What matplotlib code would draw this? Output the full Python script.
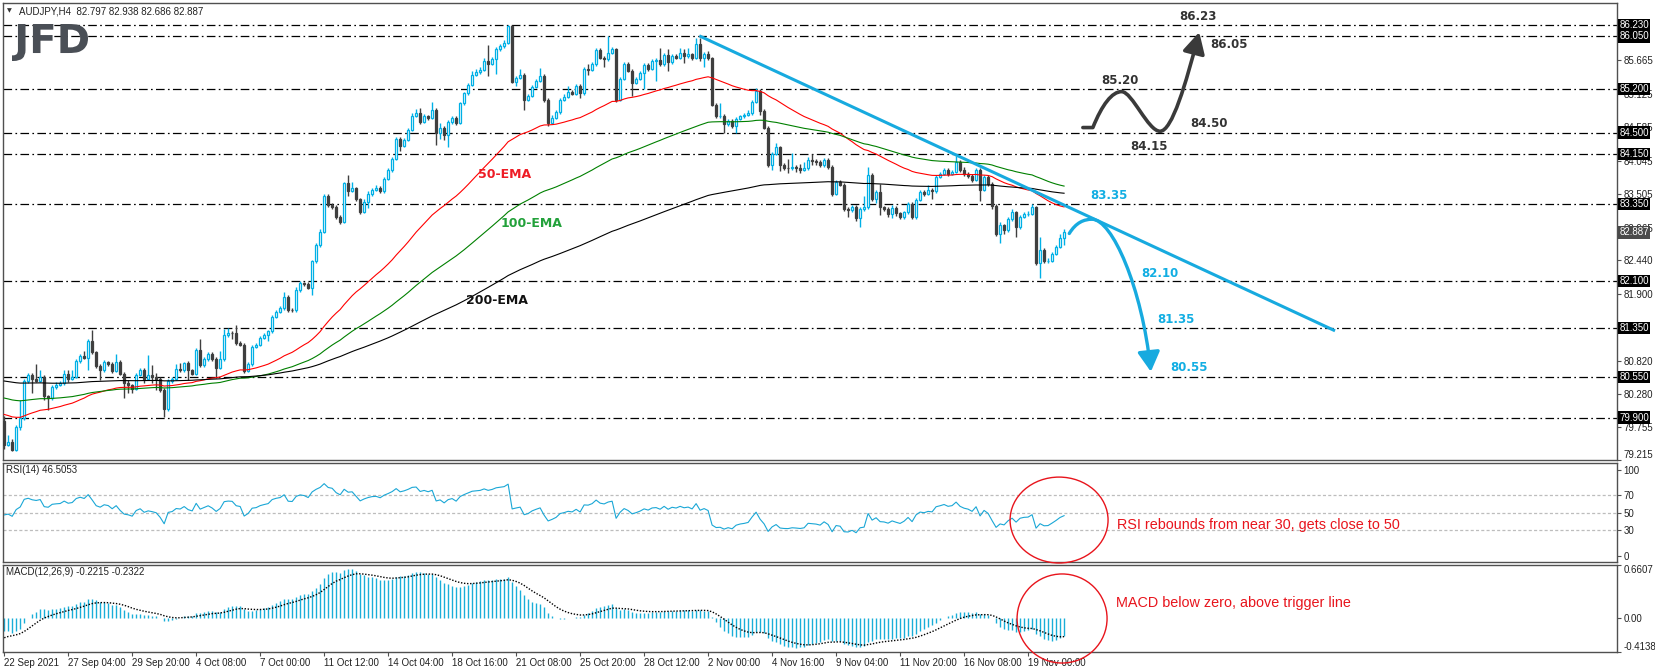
import numpy as np
import matplotlib
matplotlib.use("Agg")
import matplotlib.pyplot as plt
import matplotlib.transforms as mtransforms
from matplotlib.patches import Ellipse, FancyArrowPatch, PathPatch
from matplotlib.path import Path
from matplotlib.textpath import TextPath
from matplotlib.font_manager import FontProperties

plt.rcParams['font.family'] = ['Liberation Sans', 'DejaVu Sans']
plt.rcParams['lines.scale_dashes'] = False

# ---- data ----
header = "AUDJPY,H4  82.797 82.938 82.686 82.887"
first_open = 79.85

closes = [79.46, 79.50, 79.38, 79.74, 79.90, 80.49, 80.59, 80.52, 80.49, 80.56,  # 0
          80.24, 80.21, 80.40, 80.43, 80.45, 80.60, 80.52, 80.56, 80.81, 80.90,  # 10
          80.86, 81.13, 80.95, 80.73, 80.67, 80.80, 80.77, 80.65, 80.80, 80.61,  # 20
          80.45, 80.42, 80.36, 80.59, 80.67, 80.53, 80.59, 80.56, 80.52, 80.34,  # 30
          80.03, 80.49, 80.53, 80.68, 80.66, 80.78, 80.66, 80.61, 80.99, 80.75,  # 40
          80.84, 80.93, 80.84, 80.70, 80.84, 81.23, 81.27, 81.26, 81.10, 81.07,  # 50
          80.65, 80.77, 81.04, 81.07, 81.18, 81.24, 81.29, 81.53, 81.61, 81.66,  # 60
          81.85, 81.64, 81.63, 81.96, 82.07, 82.05, 81.99, 82.42, 82.68, 82.90,  # 70
          83.47, 83.33, 83.30, 83.14, 83.06, 83.68, 83.56, 83.60, 83.42, 83.22,  # 80
          83.38, 83.50, 83.58, 83.60, 83.55, 83.75, 83.89, 84.07, 84.39, 84.28,  # 90
          84.38, 84.54, 84.77, 84.81, 84.67, 84.77, 84.73, 84.86, 84.50, 84.57,  # 100
          84.46, 84.67, 84.74, 84.65, 84.97, 85.13, 85.27, 85.43, 85.47, 85.51,  # 110
          85.65, 85.61, 85.69, 85.84, 85.89, 85.95, 86.22, 85.32, 85.38, 85.43,  # 120
          85.03, 85.09, 85.24, 85.33, 85.41, 85.03, 84.65, 84.73, 84.83, 85.03,  # 130
          85.08, 85.15, 85.12, 85.25, 85.13, 85.52, 85.51, 85.60, 85.83, 85.71,  # 140
          85.68, 85.79, 85.84, 85.03, 85.37, 85.61, 85.50, 85.30, 85.37, 85.46,  # 150
          85.59, 85.53, 85.65, 85.67, 85.60, 85.75, 85.63, 85.73, 85.70, 85.78,  # 160
          85.73, 85.76, 85.70, 85.93, 85.70, 85.77, 85.70, 84.95, 84.76, 84.77,  # 170
          84.63, 84.68, 84.60, 84.72, 84.76, 84.78, 84.81, 84.99, 85.17, 84.85,  # 180
          84.58, 83.97, 84.16, 84.26, 83.97, 83.93, 83.92, 83.95, 83.93, 83.90,  # 190
          83.92, 84.06, 84.04, 84.02, 83.97, 84.06, 83.94, 83.51, 83.70, 83.66,  # 200
          83.27, 83.25, 83.30, 83.12, 83.27, 83.29, 83.81, 83.43, 83.54, 83.29,  # 210
          83.27, 83.19, 83.28, 83.20, 83.13, 83.21, 83.35, 83.13, 83.41, 83.54,  # 220
          83.51, 83.57, 83.55, 83.78, 83.83, 83.89, 83.83, 83.86, 84.02, 83.89,  # 230
          83.83, 83.80, 83.73, 83.90, 83.57, 83.79, 83.67, 83.32, 82.86, 83.00,  # 240
          82.93, 83.10, 83.21, 82.97, 83.14, 83.18, 83.19, 83.29, 82.39, 82.60,  # 250
          82.42, 82.43, 82.54, 82.66, 82.80, 82.887]                             # 260

highs = [79.92, 79.62, 79.55, 79.78, 80.18, 80.52, 80.62, 80.62, 80.76, 80.67,
         80.58, 80.27, 80.43, 80.48, 80.49, 80.67, 80.67, 80.67, 80.84, 80.92,
         80.97, 81.16, 81.31, 80.98, 80.76, 80.83, 80.82, 80.80, 80.93, 80.83,
         80.64, 80.50, 80.44, 80.62, 80.70, 80.70, 80.91, 80.75, 80.62, 80.55,
         80.37, 80.52, 80.56, 80.77, 80.78, 80.80, 80.81, 80.69, 81.02, 81.17,
         80.87, 80.96, 80.96, 80.87, 80.97, 81.33, 81.35, 81.30, 81.39, 81.13,
         81.10, 80.80, 81.07, 81.10, 81.21, 81.27, 81.32, 81.56, 81.64, 81.70,
         81.93, 81.87, 81.67, 82.00, 82.10, 82.09, 82.08, 82.45, 82.72, 82.95,
         83.50, 83.50, 83.37, 83.33, 83.17, 83.70, 83.81, 83.70, 83.62, 83.45,
         83.42, 83.56, 83.61, 83.66, 83.63, 83.78, 83.92, 84.10, 84.42, 84.42,
         84.41, 84.57, 84.81, 84.88, 84.90, 84.80, 84.79, 85.00, 84.90, 84.66,
         84.60, 84.70, 84.77, 84.77, 85.00, 85.16, 85.30, 85.50, 85.52, 85.56,
         85.70, 85.92, 85.72, 85.88, 85.93, 86.00, 86.23, 86.23, 85.42, 85.52,
         85.46, 85.12, 85.27, 85.36, 85.54, 85.44, 85.06, 84.78, 84.86, 85.06,
         85.12, 85.25, 85.18, 85.28, 85.28, 85.55, 85.60, 85.64, 85.86, 85.86,
         85.73, 86.06, 85.88, 85.87, 85.40, 85.64, 85.64, 85.52, 85.40, 85.50,
         85.62, 85.62, 85.68, 85.70, 85.86, 85.78, 85.85, 85.76, 85.76, 85.87,
         85.84, 85.87, 85.79, 86.02, 86.03, 85.80, 85.82, 85.72, 84.98, 84.98,
         84.80, 84.71, 84.72, 84.75, 84.79, 84.82, 84.87, 85.02, 85.22, 85.20,
         84.88, 84.61, 84.19, 84.33, 84.29, 84.00, 84.08, 84.17, 83.98, 83.99,
         84.02, 84.10, 84.16, 84.08, 84.05, 84.09, 84.09, 83.97, 83.73, 83.73,
         83.69, 83.30, 83.33, 83.33, 83.30, 83.47, 83.94, 83.84, 83.57, 83.67,
         83.31, 83.30, 83.33, 83.31, 83.22, 83.24, 83.38, 83.38, 83.45, 83.57,
         83.57, 83.66, 83.60, 83.81, 83.86, 83.93, 83.92, 83.90, 84.12, 84.05,
         83.94, 83.86, 83.83, 83.93, 83.93, 83.82, 83.82, 83.70, 83.35, 83.05,
         83.02, 83.13, 83.26, 83.24, 83.17, 83.22, 83.23, 83.35, 83.32, 82.82,
         82.63, 82.48, 82.57, 82.69, 82.86, 82.938]

lows = [79.40, 79.44, 79.36, 79.36, 79.70, 79.86, 80.46, 80.30, 80.47, 80.47,
        80.18, 80.02, 80.19, 80.36, 80.41, 80.43, 80.48, 80.50, 80.54, 80.78,
        80.84, 80.66, 80.92, 80.70, 80.50, 80.64, 80.74, 80.62, 80.63, 80.58,
        80.21, 80.30, 80.30, 80.34, 80.57, 80.45, 80.51, 80.45, 80.35, 80.31,
        79.91, 80.00, 80.46, 80.51, 80.64, 80.64, 80.50, 80.58, 80.59, 80.72,
        80.72, 80.82, 80.81, 80.54, 80.68, 80.82, 81.20, 81.17, 81.07, 81.05,
        80.62, 80.63, 80.74, 81.02, 81.05, 81.16, 81.13, 81.27, 81.51, 81.59,
        81.64, 81.61, 81.61, 81.61, 81.93, 82.02, 81.97, 81.88, 82.40, 82.66,
        82.88, 83.30, 83.27, 83.10, 83.03, 83.04, 83.48, 83.54, 83.39, 83.19,
        83.20, 83.28, 83.47, 83.55, 83.52, 83.53, 83.73, 83.87, 84.05, 84.20,
        84.26, 84.36, 84.52, 84.75, 84.64, 84.65, 84.70, 84.71, 84.30, 84.40,
        84.38, 84.27, 84.64, 84.62, 84.63, 84.95, 85.11, 85.25, 85.41, 85.45,
        85.49, 85.42, 85.59, 85.44, 85.82, 85.87, 85.93, 85.30, 85.25, 85.36,
        84.86, 85.01, 85.07, 85.22, 85.31, 85.00, 84.60, 84.63, 84.71, 84.80,
        85.01, 85.06, 85.10, 85.10, 85.06, 85.11, 85.43, 85.49, 85.58, 85.68,
        85.56, 85.66, 85.77, 85.00, 85.01, 85.35, 85.47, 85.09, 85.28, 85.35,
        85.20, 85.50, 85.51, 85.33, 85.57, 85.58, 85.50, 85.61, 85.68, 85.68,
        85.62, 85.71, 85.67, 85.68, 85.66, 85.56, 85.67, 84.92, 84.73, 84.74,
        84.49, 84.60, 84.57, 84.49, 84.70, 84.74, 84.76, 84.79, 84.97, 84.79,
        84.55, 83.94, 83.89, 84.14, 83.88, 83.90, 83.85, 83.90, 83.86, 83.84,
        83.88, 83.90, 83.98, 83.98, 83.94, 83.95, 83.91, 83.48, 83.49, 83.63,
        83.24, 83.14, 83.22, 83.07, 82.98, 83.24, 83.27, 83.40, 83.37, 83.17,
        83.23, 83.14, 83.12, 83.15, 83.10, 83.11, 83.18, 83.10, 83.11, 83.39,
        83.48, 83.49, 83.42, 83.53, 83.76, 83.81, 83.80, 83.81, 83.84, 83.86,
        83.80, 83.77, 83.70, 83.71, 83.40, 83.55, 83.63, 83.26, 82.83, 82.72,
        82.86, 82.90, 83.08, 82.81, 82.95, 83.12, 83.15, 83.17, 82.36, 82.16,
        82.39, 82.40, 82.41, 82.52, 82.64, 82.686]

# indicator values just before the first visible bar (read at the left edge)
ema_seeds = {50: 79.97, 100: 80.23, 200: 80.50}
macd_seeds = {"fast": 79.82, "slow": 79.95, "signal": -0.26}
rsi_seeds = {"gain": 0.09, "loss": 0.07}

date_labels = ["22 Sep 2021", "27 Sep 04:00", "29 Sep 20:00", "4 Oct 08:00", "7 Oct 00:00",
               "11 Oct 12:00", "14 Oct 04:00", "18 Oct 16:00", "21 Oct 08:00", "25 Oct 20:00",
               "28 Oct 12:00", "2 Nov 00:00", "4 Nov 16:00", "9 Nov 04:00", "11 Nov 20:00",
               "16 Nov 08:00", "19 Nov 00:00"]

levels = [86.23, 86.05, 85.20, 84.50, 84.15, 83.35, 82.10, 81.35, 80.55, 79.90]
price_ticks = [85.665, 85.125, 84.585, 84.045, 83.505, 82.965, 82.440, 81.900,
               80.820, 80.280, 79.755, 79.215]
last_price = 82.887

trend_x = [173.8, 332.75]
trend_y = [86.06, 81.30]

# scenario arrows (bar index, price)
bear_path = [(266.3, 82.87), (268.0, 83.05), (270.0, 83.10), (272.0, 83.10),
             (277.0, 83.10), (284.5, 82.00), (286.7, 80.64)]
bull_path = [(269.7, 84.58), (272.2, 84.58),
             (274.5, 84.95), (277.0, 85.16), (279.4, 85.16),
             (282.0, 85.16), (286.0, 84.52), (289.0, 84.52),
             (292.0, 84.52), (295.5, 85.30), (298.8, 86.12)]

bull_labels = [("86.23", 298.4, 86.37), ("86.05", 306.3, 85.92), ("85.20", 279.0, 85.34),
               ("84.50", 301.3, 84.65), ("84.15", 286.3, 84.27)]
bear_labels = [("83.35", 276.2, 83.48), ("82.10", 289.0, 82.22),
               ("81.35", 293.0, 81.49), ("80.55", 296.3, 80.71)]
ema_labels = [("50-EMA", 125.0, 83.82, '#ee1c25'), ("100-EMA", 131.8, 83.03, '#22a13a'),
              ("200-EMA", 123.2, 81.79, '#111111')]

rsi_note = "RSI rebounds from near 30, gets close to 50"
macd_note = "MACD below zero, above trigger line"


def ema(values, period, seed):
    k = 2.0 / (period + 1)
    out = []
    prev = seed
    for v in values:
        prev = prev + k * (v - prev)
        out.append(prev)
    return np.array(out)


def rsi(values, start, period, gain, loss):
    out = []
    prev = start
    for v in values:
        ch = v - prev
        prev = v
        gain = (gain * (period - 1) + max(ch, 0)) / period
        loss = (loss * (period - 1) + max(-ch, 0)) / period
        out.append(100 * gain / (gain + loss))
    return np.array(out)


c = np.array(closes)
o = np.array([first_open] + closes[:-1])
h = np.array(highs)
l = np.array(lows)
x = np.arange(len(c))

ema50 = ema(c, 50, ema_seeds[50])
ema100 = ema(c, 100, ema_seeds[100])
ema200 = ema(c, 200, ema_seeds[200])
macd = ema(c, 12, macd_seeds["fast"]) - ema(c, 26, macd_seeds["slow"])
signal = ema(macd, 9, macd_seeds["signal"])
rsi14 = rsi(c, first_open, 14, rsi_seeds["gain"], rsi_seeds["loss"])

cyan = '#00b0e6'
dark = '#3f3f3f'
blue = '#17aadf'
red = '#e8141c'
frame = '#505050'

W, H = 1655, 670
fig = plt.figure(figsize=(W / 100, H / 100), dpi=100)
left, right = 3 / W, 1617 / W
ax = fig.add_axes([left, 1 - 460 / H, right - left, 457 / H])
ax_r = fig.add_axes([left, 1 - 562 / H, right - left, 99 / H])
ax_m = fig.add_axes([left, 1 - 652 / H, right - left, 87 / H])

xlim = (-0.3, 403.25)
for a in (ax, ax_r, ax_m):
    a.set_xlim(*xlim)
    for s in a.spines.values():
        s.set_color(frame)
        s.set_linewidth(1)
    a.yaxis.tick_right()
    a.tick_params(axis='y', direction='out', length=3, width=0.8, colors=frame,
                  labelcolor='#222222', labelsize=7, pad=1.5)
    a.tick_params(axis='x', bottom=False, labelbottom=False)

# ---- price panel ----
ax.set_ylim(79.215, 86.59)
bull = c >= o
bear = ~bull
ax.vlines(x[bull], l[bull], h[bull], color=cyan, lw=1, zorder=3)
ax.vlines(x[bear], l[bear], h[bear], color=dark, lw=1, zorder=3)
ax.bar(x[bull], np.maximum(c - o, 0.004)[bull], bottom=o[bull], width=0.55,
       facecolor='white', edgecolor=cyan, linewidth=0.9, zorder=4)
ax.bar(x[bear], (o - c)[bear], bottom=c[bear], width=0.55,
       facecolor=dark, edgecolor=dark, linewidth=0.9, zorder=4)

ax.plot(x, ema50, color='#ff0000', lw=0.8, zorder=5)
ax.plot(x, ema100, color='#008000', lw=0.8, zorder=5)
ax.plot(x, ema200, color='black', lw=0.8, zorder=5)

for lv in levels:
    ax.axhline(lv, color='black', lw=0.9, dashes=(6.2, 2.4, 1.2, 2.4), zorder=2)

ax.plot(trend_x, trend_y, color=blue, lw=2.2, zorder=6, solid_capstyle='butt')

bear_codes = [Path.MOVETO] + [Path.CURVE4] * 6
ax.add_patch(FancyArrowPatch(path=Path(bear_path, bear_codes),
                             arrowstyle='-|>,head_length=0.8,head_width=0.45',
                             mutation_scale=15, lw=2.4, color=blue, zorder=7))
bull_codes = [Path.MOVETO, Path.LINETO] + [Path.CURVE4] * 9
ax.add_patch(FancyArrowPatch(path=Path(bull_path, bull_codes),
                             arrowstyle='-|>,head_length=0.85,head_width=0.45',
                             mutation_scale=15, lw=2.6, color='#3a3a3a', zorder=7))

for txt, bx, by in bull_labels:
    ax.text(bx, by, txt, color='#333333', fontsize=8.5, fontweight='bold',
            family='DejaVu Sans', ha='center', va='center', zorder=8)
for txt, bx, by in bear_labels:
    ax.text(bx, by, txt, color='#12aee3', fontsize=8.5, fontweight='bold',
            family='DejaVu Sans', ha='center', va='center', zorder=8)
for txt, bx, by, col in ema_labels:
    ax.text(bx, by, txt, color=col, fontsize=9, fontweight='bold',
            family='DejaVu Sans', ha='center', va='center', zorder=8)

ax.set_yticks(price_ticks)
ax.set_yticklabels([f"{v:.3f}" for v in price_ticks])
ax.get_yticklabels()[-1].set_va('bottom')
ax.text(16 / 1614, 1 - 8 / 457, header, transform=ax.transAxes, fontsize=7,
        color='#222222', ha='left', va='center')
fig.text(9 / W, 1 - 11 / H, "\u25bc", fontsize=4.5, color='#333333',
         family='DejaVu Sans', ha='center', va='center')

yx = mtransforms.blended_transform_factory(ax.transAxes, ax.transData)
for lv in levels:
    ax.text(1.0015, lv, f"{lv:.3f}", transform=yx, color='white', fontsize=7,
            ha='left', va='center', clip_on=False, zorder=10,
            bbox=dict(boxstyle='square,pad=0.12', fc='black', ec='none'))
ax.text(1.0015, last_price, f"{last_price:.3f}", transform=yx, color='white',
        fontsize=7, ha='left', va='center', clip_on=False, zorder=10,
        bbox=dict(boxstyle='square,pad=0.12', fc='#4a4a4a', ec='none'))

# JFD logo
tp = TextPath((0, 0), "JFD", size=40, prop=FontProperties(family='DejaVu Sans', weight='bold'))
bb = tp.get_extents()
logo_tr = (mtransforms.Affine2D().translate(-bb.x0, -bb.y0)
           .scale(76 / bb.width, 37 / bb.height).translate(12, H - 61))
fig.add_artist(PathPatch(logo_tr.transform_path(tp), transform=mtransforms.IdentityTransform(),
                         fc='#4a4f56', ec='none'))

# ---- RSI panel ----
ax_r.set_ylim(-7.45, 107.8)
for lv in (70, 50, 30):
    ax_r.axhline(lv, color='#bdbdbd', lw=0.9, dashes=(2.2, 1.6))
ax_r.plot(x, rsi14, color='#1aa7d6', lw=0.8)
ax_r.set_yticks([100, 70, 50, 30, 0])
ax_r.set_yticklabels(["100", "70", "50", "30", "0"])
ax_r.text(3 / 1614, 0.925, "RSI(14) 46.5053", transform=ax_r.transAxes, fontsize=7,
          color='#222222', ha='left', va='center')
ax_r.add_patch(Ellipse((263.75, 41.4), 24.5, 100, fill=False, ec=red, lw=1, clip_on=False, zorder=9))
ax_r.text(278.2, 36.2, rsi_note, color=red, fontsize=10.4, ha='left', va='center')

# ---- MACD panel ----
ax_m.set_ylim(-0.4138, 0.6607)
ax_m.vlines(x, 0, macd, color='#1aaed8', lw=1)
ax_m.plot(x, signal, color='black', lw=1, dashes=(1.0, 1.2))
ax_m.set_yticks([0.6607, 0.0, -0.4138])
ax_m.set_yticklabels(["0.6607", "0.00", "-0.4138"])
ax_m.get_yticklabels()[0].set_va('top')
ax_m.get_yticklabels()[2].set_va('bottom')
ax_m.text(3 / 1614, 0.915, "MACD(12,26,9) -0.2215 -0.2322", transform=ax_m.transAxes,
          fontsize=7, color='#222222', ha='left', va='center')
ax_m.add_patch(Ellipse((264.5, 0.0), 22.5, 1.10, fill=False, ec=red, lw=1, clip_on=False, zorder=9))
ax_m.text(278.0, 0.188, macd_note, color=red, fontsize=10.4, ha='left', va='center')

ax_m.tick_params(axis='x', bottom=True, labelbottom=True, direction='out', length=3,
                 width=0.8, colors=frame, labelcolor='#222222', labelsize=7, pad=1.5)
ax_m.set_xticks(np.arange(len(date_labels)) * 16)
ax_m.set_xticklabels(date_labels)
for lbl in ax_m.get_xticklabels():
    lbl.set_ha('left')

fig.savefig("out.png", dpi=100, facecolor='white')
